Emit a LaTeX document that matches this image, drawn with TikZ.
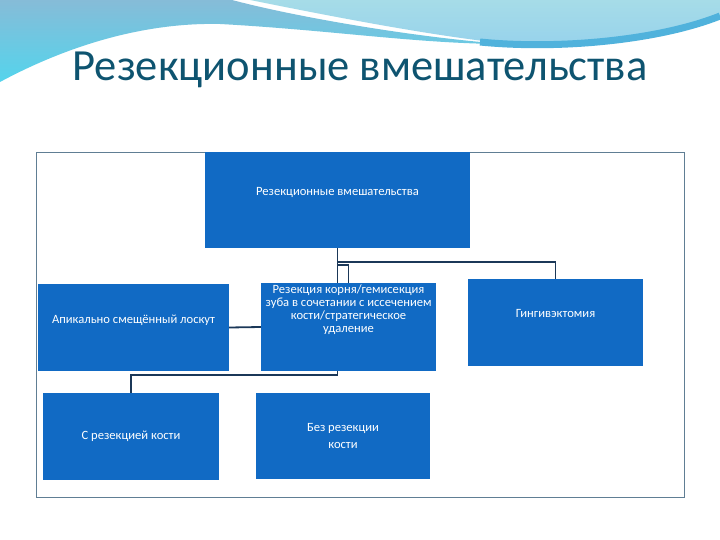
\documentclass[tikz,border=0pt]{standalone}
\usepackage{fontspec}
\setmainfont{Carlito}
\usetikzlibrary{backgrounds}
\definecolor{boxblue}{RGB}{17,106,196}
\definecolor{linenavy}{RGB}{27,56,88}
\definecolor{framegray}{RGB}{96,126,148}
\definecolor{titleteal}{RGB}{14,84,112}
\definecolor{wavetop}{RGB}{134,188,216}
\definecolor{wavebot}{RGB}{84,212,236}
\definecolor{waveright}{RGB}{166,220,232}
\definecolor{waveband}{RGB}{80,178,220}
\tikzset{
  box/.style={fill=boxblue, draw=none, inner sep=0pt},
  btext/.style={text=white, font=\fontsize{12.6}{13}\selectfont, align=center, inner sep=0pt},
  conn/.style={draw=linenavy, line width=1.8pt},
}
\begin{document}
\begin{tikzpicture}[x=1pt,y=-1pt]
\useasboundingbox (0,0) rectangle (720,540);
% title
\node[text=titleteal, font=\fontsize{44.5}{50}\selectfont, anchor=base] (title) at (360,81) {Резекционные вмешательства};
% boxes
\node[box, minimum width=265, minimum height=96] (top) at (337.5,200) {};
\node[box, minimum width=191, minimum height=87] (left) at (133.5,327.5) {};
\node[box, minimum width=175, minimum height=88] (mid) at (348.5,327) {};
\node[box, minimum width=175, minimum height=87] (right) at (555.5,322.5) {};
\node[box, minimum width=176, minimum height=87] (bl) at (131,436.5) {};
\node[box, minimum width=174, minimum height=86] (bm) at (343,436) {};
% texts
\node[btext] (ttop) at ([yshift=8]top.center) {Резекционные вмешательства};
\node[btext] (tleft) at ([yshift=7]left.center) {Апикально смещённый лоскут};
\node[btext] (tmid) at ([yshift=17]mid.center) {Резекция корня/гемисекция\\зуба в сочетании с иссечением\\кости/стратегическое\\удаление};
\node[btext] (tright) at ([yshift=9]right.center) {Гингивэктомия};
\node[btext] (tbl) at (bl.center) {С резекцией кости};
\node[btext, font=\fontsize{12.6}{17}\selectfont] (tbm) at (bm.center) {Без резекции\\кости};
\begin{scope}[on background layer]
  \fill[white] (0,0) rectangle (720,540);
  % background wave
  \shade[top color=wavetop, bottom color=wavebot]
    (0,0) -- (232,0) .. controls (300,18) and (420,38) .. (505,44)
    .. controls (420,44) and (330,30) .. (220,24)
    .. controls (130,22) and (50,55) .. (0,82) -- cycle;
  \shade[top color=waveright, bottom color={rgb,255:red,150;green,210;blue,236}]
    (250,0) -- (720,0) -- (720,18) .. controls (650,40) and (570,48) .. (510,44)
    .. controls (430,36) and (320,14) .. (250,0) -- cycle;
  \draw[waveband, line width=7pt]
    (480,42) .. controls (560,50) and (660,40) .. (720,16);
  % frame
  \draw[framegray, line width=0.9pt] (36,152) rectangle (684,497);
  % connectors (behind boxes)
  \coordinate (j1) at (top.south |- 0,262);
  \coordinate (j2) at (top.south |- 0,265);
  \coordinate (j3) at (top.south |- 0,375);
  \draw[conn] (top.south) -- (j3) -| (bl.north);
  \draw[conn] (j1) -| (right.north);
  \draw[conn] (j2) -| (mid.north);
  \draw[conn] (left.east) -- (mid.west);
\end{scope}
\end{tikzpicture}
\end{document}
